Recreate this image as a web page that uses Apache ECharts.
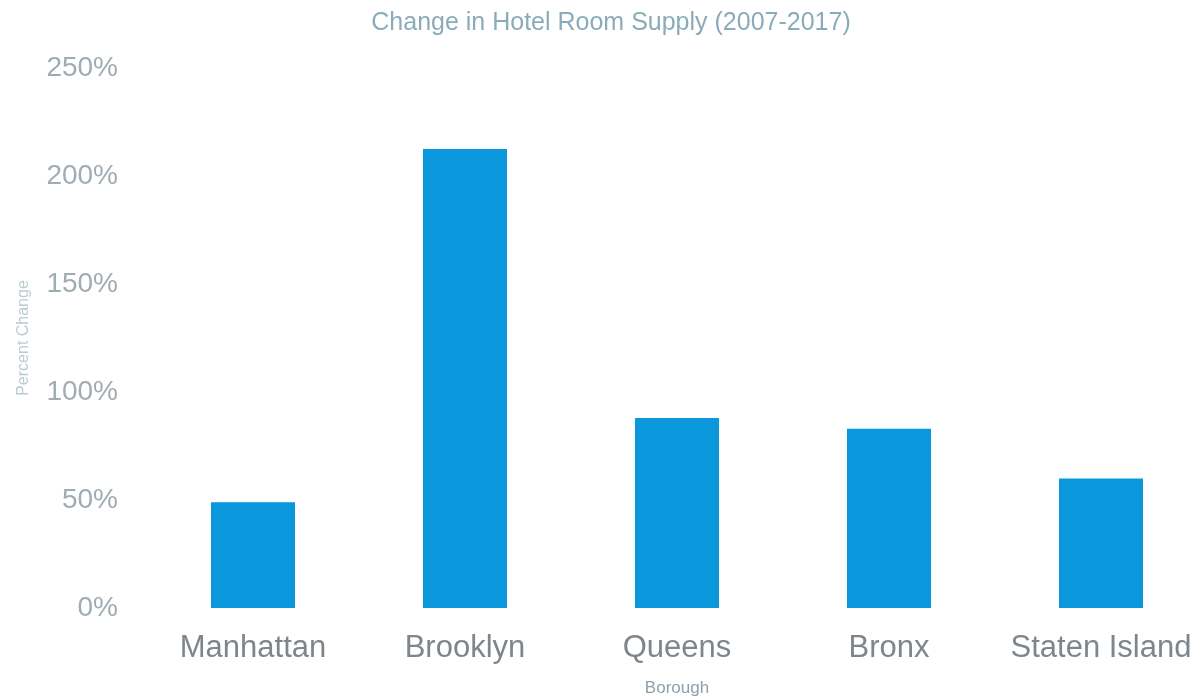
<!DOCTYPE html>
<html>
<head>
<meta charset="utf-8">
<script src="https://cdn.jsdelivr.net/npm/echarts@6/dist/echarts.min.js"></script>
<style>html,body{margin:0;padding:0;background:#fff}#c{width:1200px;height:698px}</style>
</head>
<body>
<div id="c"></div>
<script>
const categories = ['Manhattan', 'Brooklyn', 'Queens', 'Bronx', 'Staten Island'];
const percentChange = [49, 212.5, 88, 83, 60];
const yTicks = [0, 50, 100, 150, 200, 250];

const chart = echarts.init(document.getElementById('c'));
chart.setOption({
  animation: false,
  backgroundColor: '#ffffff',
  title: {
    text: 'Change in Hotel Room Supply (2007-2017)',
    left: 606, top: 6, textAlign: 'center',
    textStyle: {fontFamily: 'Liberation Sans, Arial', fontSize: 25, fontWeight: 'normal', color: '#8aabb9'}
  },
  grid: {left: 147, width: 1060, top: 68, bottom: 90, containLabel: false, outerBoundsMode: 'none'},
  xAxis: {
    type: 'category', data: categories,
    name: 'Borough', nameLocation: 'middle', nameGap: 72,
    nameTextStyle: {fontFamily: 'Liberation Sans, Arial', fontSize: 17, color: '#8fa0aa'},
    axisLine: {show: false}, axisTick: {show: false},
    axisLabel: {interval: 0, hideOverlap: false, fontFamily: 'Liberation Sans, Arial', fontSize: 31, color: '#7f868b', margin: 25}
  },
  yAxis: {
    type: 'value', min: yTicks[0], max: yTicks[yTicks.length - 1], interval: 50,
    name: 'Percent Change', nameLocation: 'middle', nameGap: 115, nameRotate: 90,
    nameTextStyle: {fontFamily: 'Liberation Sans, Arial', fontSize: 16, color: '#bccad1'},
    axisLine: {show: false}, axisTick: {show: false}, splitLine: {show: false},
    axisLabel: {fontFamily: 'Liberation Sans, Arial', fontSize: 28, color: '#a0acb3', margin: 29,
      formatter: v => v + '%'}
  },
  series: [{
    type: 'bar', data: percentChange, barWidth: 84,
    itemStyle: {color: '#0a97dc'}
  }]
});
</script>
</body>
</html>
